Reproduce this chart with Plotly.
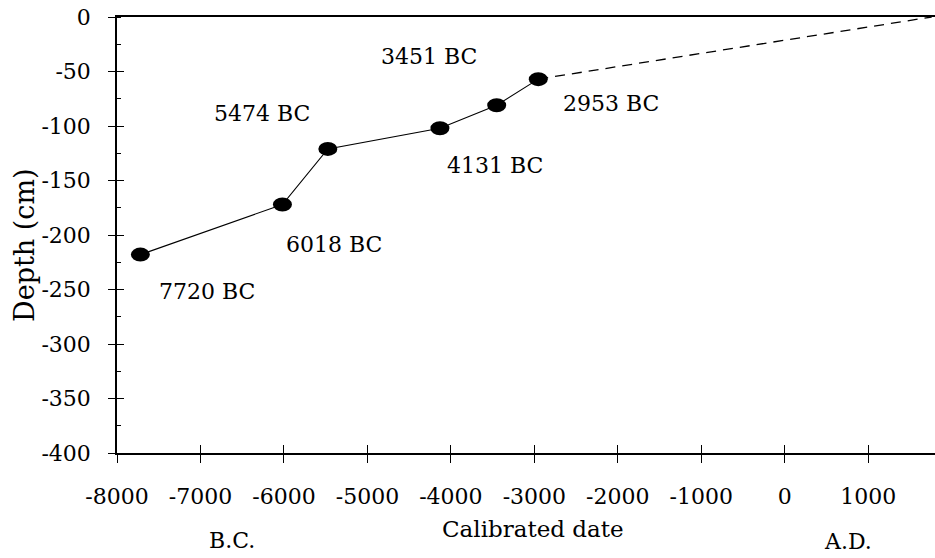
import plotly.graph_objects as go

# ---- data ----
dates = [-7720, -6018, -5474, -4131, -3451, -2953]        # calibrated date (negative = BC)
depths = [-218, -172, -121, -102, -81, -57]                # depth (cm)
extrap_dates = [-2953, 1760]                               # dashed extrapolation to surface
extrap_depths = [-57, 0]
x_tickvals = [-8000, -7000, -6000, -5000, -4000, -3000, -2000, -1000, 0, 1000]
x_ticktext = ["-8000", "-7000", "-6000", "-5000", "-4000", "-3000", "-2000", "-1000", "0", "1000"]
y_tickvals = [0, -50, -100, -150, -200, -250, -300, -350, -400]
y_ticktext = ["0", "-50", "-100", "-150", "-200", "-250", "-300", "-350", "-400"]

# label offsets (pixels) for each date label: (dx, dy) ; style only
label_offsets = [(67, -37), (52, -40), (-66, 35), (55, -37), (-68, 49), (73, -24)]

FONT = "DejaVu Serif"
fig = go.Figure()

fig.add_trace(go.Scatter(x=dates, y=depths, mode="lines",
                         line=dict(color="black", width=1.1),
                         showlegend=False, hoverinfo="skip"))
fig.add_trace(go.Scatter(x=extrap_dates, y=extrap_depths, mode="lines",
                         line=dict(color="black", width=1.3, dash="10px,7px"),
                         showlegend=False, hoverinfo="skip"))
# invisible trace to activate overlay axes (for crossing ticks)
fig.add_trace(go.Scatter(x=[x_tickvals[0]], y=[y_tickvals[0]], xaxis="x2", yaxis="y2",
                         mode="markers", marker=dict(opacity=0),
                         showlegend=False, hoverinfo="skip"))

# elliptical markers
for xv, yv in zip(dates, depths):
    fig.add_shape(type="circle", xref="x", yref="y",
                  xsizemode="pixel", ysizemode="pixel",
                  xanchor=xv, yanchor=yv, x0=-9.5, x1=9.5, y0=-7, y1=7,
                  fillcolor="black", line=dict(color="black", width=0))

# date labels
for (xv, yv), (dx, dy) in zip(zip(dates, depths), label_offsets):
    fig.add_annotation(x=xv, y=yv, xref="x", yref="y", text=f"{-xv} BC",
                       showarrow=False, xshift=dx, yshift=dy,
                       xanchor="center", yanchor="middle",
                       font=dict(family=FONT, size=22, color="black"))

XR = [-8000, 1800]
YR = [-400, 0]
fig.update_layout(
    width=935, height=558,
    margin=dict(l=117, r=0, t=17, b=105, autoexpand=False),
    plot_bgcolor="white", paper_bgcolor="white",
    font=dict(family=FONT, size=22, color="black"),
    xaxis=dict(range=XR, tickvals=x_tickvals, ticktext=x_ticktext, automargin=False,
               showline=True, linecolor="black", linewidth=1.5, mirror=True,
               ticks="outside", ticklen=8, tickwidth=1.2, tickcolor="black",
               ticklabelstandoff=15,
               showgrid=False, zeroline=False),
    yaxis=dict(range=YR, tickvals=y_tickvals, ticktext=y_ticktext, automargin=False,
               showline=True, linecolor="black", linewidth=1.5,
               ticks="outside", ticklen=7, tickwidth=1.2, tickcolor="black",
               ticklabelstandoff=13,
               minor=dict(ticks="inside", ticklen=4, tickwidth=1.2, tickcolor="black",
                          dtick=25, showgrid=False),
               showgrid=False, zeroline=False),
    xaxis2=dict(range=XR, overlaying="x", anchor="y2", tickvals=x_tickvals, automargin=False,
                showticklabels=False, ticks="inside", ticklen=8, tickwidth=1.2,
                tickcolor="black", showline=False, showgrid=False, zeroline=False),
    yaxis2=dict(range=YR, overlaying="y", anchor="x2", side="left", tickvals=y_tickvals,
                automargin=False,
                showticklabels=False, ticks="inside", ticklen=7, tickwidth=1.2,
                tickcolor="black", showline=False, showgrid=False, zeroline=False),
)

# axis titles and era labels
def paper_note(text, px, py, size, angle=0):
    fig.add_annotation(text=text, xref="paper", yref="paper",
                       x=(px - 117) / 818, y=(453 - py) / 436,
                       xanchor="center", yanchor="middle", showarrow=False,
                       textangle=angle, font=dict(family=FONT, size=size))

paper_note("Calibrated date", 533, 529, 23)
paper_note("Depth (cm)", 24, 245, 27, -90)
paper_note("B.C.", 232, 540, 22)
paper_note("A.D.", 848, 541, 22)

fig.write_html("out.html", config={"displayModeBar": False},
               post_script="document.body.style.margin='0';")
